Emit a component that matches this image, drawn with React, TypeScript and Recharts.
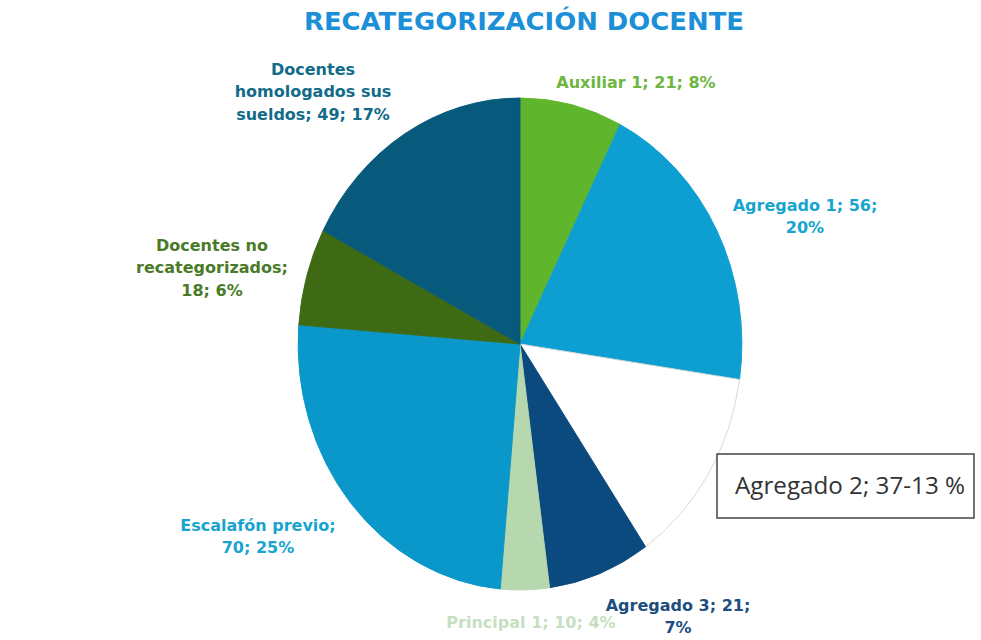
import React from 'react';
import { PieChart, Pie, Cell } from 'recharts';

// slices, clockwise from 12 o'clock
const categories = [
  'Auxiliar 1',
  'Agregado 1',
  'Agregado 2',
  'Agregado 3',
  'Principal 1',
  'Escalafón previo',
  'Docentes no recategorizados',
  'Docentes homologados sus sueldos',
];
const values = [21, 56, 37, 21, 10, 70, 18, 49];
const percents = [8, 20, 13, 7, 4, 25, 6, 17];

const sliceColors = ['#5FB52C', '#0E9FD2', '#FFFFFF', '#0B4A7F', '#B7D7AE', '#0A97C9', '#3E6A14', '#075A7C'];
const labelColors = ['#6DB640', '#17A5CF', '#333333', '#1D4E80', '#C6DFC0', '#17A5CF', '#4A7A28', '#126B89'];

// label placement: centre x, first line centre y, words on each line
const labelLayout = [
  { x: 636, y: 82, words: [4] },
  { x: 805, y: 205, words: [3, 1] },
  { x: 850, y: 484, words: [] },
  { x: 678, y: 605, words: [3, 1] },
  { x: 531, y: 622, words: [4] },
  { x: 258, y: 525, words: [2, 2] },
  { x: 212, y: 245, words: [2, 1, 2] },
  { x: 313, y: 69, words: [1, 2, 3] },
];

const data = categories.map((name, i) => ({ name, value: values[i] }));

const CX = 520;
const CY = 344;
const R = 246;
const SQUASH = 0.902; // the original pie is an ellipse

const renderLabel = (props: any) => {
  const i = props.index;
  const lay = labelLayout[i];
  if (categories[i] === 'Agregado 2') {
    return (
      <g key={`lbl-${i}`}>
        <rect x={717} y={454} width={257} height={64} fill="#fff" stroke="#444" strokeWidth={1.5} />
        <text
          x={lay.x}
          y={lay.y}
          textAnchor="middle"
          dominantBaseline="central"
          fontFamily="'Open Sans', 'Liberation Sans', sans-serif"
          fontSize={24}
          fill={labelColors[i]}
          textLength={230}
          lengthAdjust="spacingAndGlyphs"
        >
          {`${categories[i]}; ${values[i]}-${percents[i]} %`}
        </text>
      </g>
    );
  }
  const words = `${categories[i]}; ${values[i]}; ${percents[i]}%`.split(' ');
  const lines: string[] = [];
  let k = 0;
  lay.words.forEach((n) => {
    lines.push(words.slice(k, k + n).join(' '));
    k += n;
  });
  return (
    <text
      key={`lbl-${i}`}
      x={lay.x}
      y={lay.y}
      textAnchor="middle"
      fontFamily="'DejaVu Sans', Verdana, sans-serif"
      fontWeight="bold"
      fontSize={16}
      fill={labelColors[i]}
    >
      {lines.map((l, j) => (
        <tspan key={j} x={lay.x} y={lay.y + j * 22.5} dominantBaseline="central">
          {l}
        </tspan>
      ))}
    </text>
  );
};

export default function App() {
  return (
    <div style={{ position: 'absolute', left: 0, top: 0, width: 981, height: 640, background: '#fff' }}>
      <style>{`
        .squash .recharts-pie-sector {
          transform-box: view-box;
          transform-origin: ${CX}px ${CY}px;
          transform: scaleX(${SQUASH});
        }
      `}</style>
      <PieChart width={981} height={640} className="squash" margin={{ top: 0, right: 0, bottom: 0, left: 0 }}>
        <text
          x={524}
          y={22}
          textAnchor="middle"
          dominantBaseline="central"
          fontFamily="'DejaVu Sans', Verdana, sans-serif"
          fontWeight="bold"
          fontSize={24}
          fill="#1B8FD8"
          textLength={440}
          lengthAdjust="spacingAndGlyphs"
        >
          RECATEGORIZACIÓN DOCENTE
        </text>
        <Pie
          data={data}
          dataKey="value"
          nameKey="name"
          cx={CX}
          cy={CY}
          outerRadius={R}
          startAngle={90}
          endAngle={-270}
          label={renderLabel}
          labelLine={false}
          isAnimationActive={false}
        >
          {data.map((d, i) => (
            <Cell
              key={d.name}
              fill={sliceColors[i]}
              stroke={sliceColors[i] === '#FFFFFF' ? '#D6D6D6' : sliceColors[i]}
              strokeWidth={1}
            />
          ))}
        </Pie>
      </PieChart>
    </div>
  );
}
